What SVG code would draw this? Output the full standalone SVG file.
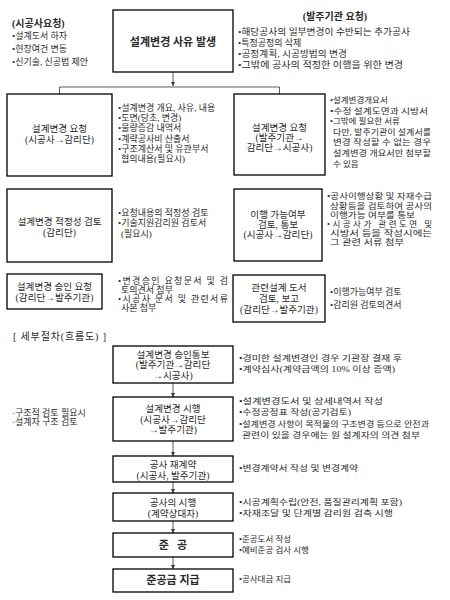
<svg xmlns="http://www.w3.org/2000/svg" width="450" height="600" viewBox="0 0 450 600">
<style>
text{font-family:"Liberation Serif","Noto Sans CJK KR",serif;fill:#2a2a2a;dominant-baseline:central}
.bt{font-size:9.6px;text-anchor:middle}
.lt{font-size:10px}
.bb{font-size:11px;text-anchor:middle;font-weight:bold}
.bl{font-size:9px}
.sm{font-size:8.5px}
.hd{font-size:10px;font-weight:bold}
.box{fill:#fff;stroke:#000;stroke-width:1.3}
.cn{fill:none;stroke:#333;stroke-width:0.8}
</style>
<defs>
<marker id="ah" viewBox="0 0 6 6" refX="6" refY="3" markerWidth="4.5" markerHeight="4.5" markerUnits="userSpaceOnUse" orient="auto">
<path d="M0,0 L6,3 L0,6 z" fill="#333"/>
</marker>
</defs>
<rect width="450" height="600" fill="#fff"/>

<g id="connectors">
<line class="cn" x1="173" y1="72" x2="173" y2="86" marker-end="url(#ah)"/>
<polyline class="cn" points="59.5,94 59.5,87 279.5,87 279.5,94"/>
<line class="cn" x1="173" y1="383" x2="173" y2="397" marker-end="url(#ah)"/>
<line class="cn" x1="173" y1="441" x2="173" y2="456" marker-end="url(#ah)"/>
<line class="cn" x1="173" y1="482" x2="173" y2="493" marker-end="url(#ah)"/>
<line class="cn" x1="173" y1="521" x2="173" y2="533" marker-end="url(#ah)"/>
<line class="cn" x1="173" y1="557" x2="173" y2="569" marker-end="url(#ah)"/>
</g>

<g id="contractor-request">
<text class="hd" x="12" y="23">(시공사요청)</text>
<text class="bl" x="12" y="36">•설계도서 하자</text>
<text class="bl" x="12" y="49">•현장여건 변동</text>
<text class="bl" x="12" y="62">•신기술, 신공법 제안</text>
</g>

<g id="owner-request">
<text class="hd" x="335" y="16" text-anchor="middle">(발주기관 요청)</text>
<text class="bl" x="238" y="32" textLength="172" lengthAdjust="spacingAndGlyphs">•해당공사의 일부변경이 수반되는 추가공사</text>
<text class="bl" x="238" y="43">•특정공정의 삭제</text>
<text class="bl" x="238" y="54" textLength="109" lengthAdjust="spacingAndGlyphs">•공정계획, 시공방법의 변경</text>
<text class="bl" x="238" y="65" textLength="165" lengthAdjust="spacingAndGlyphs">•그밖에 공사의 적정한 이행을 위한 변경</text>
</g>

<g id="n-cause">
<rect class="box" x="113" y="10" width="120" height="62" stroke-width="1.5"/>
<text class="bb" x="173" y="42">설계변경 사유 발생</text>
</g>

<g id="n-req-contractor">
<rect class="box" x="7" y="94" width="105" height="82"/>
<text class="bt" x="59.5" y="128">설계변경 요청</text>
<text class="bt" x="59.5" y="139">(시공사→감리단)</text>
<text class="bl" x="118" y="108">•설계변경 개요, 사유, 내용</text>
<text class="bl" x="118" y="118">•도면(당초, 변경)</text>
<text class="bl" x="118" y="128">•물량증감 내역서</text>
<text class="bl" x="118" y="139">•계략공사비 산출서</text>
<text class="bl" x="118" y="149">•구조계산서 및 유관부서</text>
<text class="bl" x="121" y="159">협의내용(필요시)</text>
</g>

<g id="n-req-owner">
<rect class="box" x="234" y="94" width="91" height="81"/>
<text class="bt" x="279.5" y="127">설계변경 요청</text>
<text class="bt" x="279.5" y="137">(발주기관→</text>
<text class="bt" x="279.5" y="147">감리단→시공사)</text>
<text class="sm" x="330" y="100">•설계변경개요서</text>
<text class="sm" x="330" y="110.6" textLength="98" lengthAdjust="spacingAndGlyphs">•수정 설계도면과 시방서</text>
<text class="sm" x="330" y="121">•그밖에 필요한 서류</text>
<text class="sm" x="333" y="132" textLength="98" lengthAdjust="spacingAndGlyphs">다만, 발주기관이 설계서를</text>
<text class="sm" x="333" y="142" textLength="98" lengthAdjust="spacingAndGlyphs">변경 작성할 수 없는 경우</text>
<text class="sm" x="333" y="153" textLength="98" lengthAdjust="spacingAndGlyphs">설계변경 개요서만 첨부할</text>
<text class="sm" x="333" y="163.5">수 있음</text>
</g>

<g id="n-review">
<rect class="box" x="7" y="189" width="105" height="73"/>
<text class="bt" x="59.5" y="221">설계변경 적정성 검토</text>
<text class="bt" x="59.5" y="232">(감리단)</text>
<text class="bl" x="118" y="213">•요청내용의 적정성 검토</text>
<text class="bl" x="118" y="223">•기술지원감리원 검토서</text>
<text class="bl" x="121" y="234">(필요시)</text>
</g>

<g id="n-feasibility">
<rect class="box" x="234" y="189" width="88" height="72"/>
<text class="bt" x="278" y="214">이행 가능여부</text>
<text class="bt" x="278" y="224">검토, 통보</text>
<text class="bt" x="278" y="234">(시공사→감리단)</text>
<text class="sm" x="327" y="196" textLength="105" lengthAdjust="spacingAndGlyphs">•공사이행상황 및 자재수급</text>
<text class="sm" x="330" y="205.5" textLength="102" lengthAdjust="spacingAndGlyphs">상황등을 검토하여 공사의</text>
<text class="sm" x="330" y="214.5" textLength="85" lengthAdjust="spacingAndGlyphs">이행가능 여부를 통보</text>
<text class="sm" x="327" y="223.5" textLength="105" lengthAdjust="spacing">•시공사가 관련도면 및</text>
<text class="sm" x="330" y="232.5" textLength="102" lengthAdjust="spacingAndGlyphs">시방서 등을 작성시에는</text>
<text class="sm" x="330" y="241.5" textLength="74" lengthAdjust="spacingAndGlyphs">그 관련 서류 첨부</text>
</g>

<g id="n-approval-req">
<rect class="box" x="7" y="274" width="95" height="35"/>
<text class="bt" x="54.5" y="286.5">설계변경 승인 요청</text>
<text class="bt" x="54.5" y="297.5">(감리단→발주기관)</text>
<text class="bl" x="118" y="281" textLength="110" lengthAdjust="spacing">•변경승인 요청문서 및 검</text>
<text class="bl" x="121" y="290">토의견서 첨부</text>
<text class="bl" x="118" y="299" textLength="110" lengthAdjust="spacing">•시공사 문서 및 관련서류</text>
<text class="bl" x="121" y="308">사본 첨부</text>
</g>

<g id="n-design-review">
<rect class="box" x="233" y="275" width="92" height="47"/>
<text class="bt" x="279" y="287">관련설계 도서</text>
<text class="bt" x="279" y="298">검토, 보고</text>
<text class="bt" x="279" y="309">(감리단→발주기관)</text>
<text class="bl" x="330" y="292">•이행가능여부 검토</text>
<text class="bl" x="330" y="305">•감리원 검토의견서</text>
</g>

<g id="detail-title">
<text class="lt" x="13" y="336" textLength="93" lengthAdjust="spacing">[ 세부절차(흐름도) ]</text>
</g>

<g id="n-approval-notice">
<rect class="box" x="113" y="346" width="120" height="37"/>
<text class="bt" x="173" y="354">설계변경 승인통보</text>
<text class="bt" x="173" y="364.5">(발주기관→감리단</text>
<text class="bt" x="173" y="375">→시공사)</text>
<text class="sm" x="239" y="358" textLength="163" lengthAdjust="spacingAndGlyphs">•경미한 설계변경인 경우 기관장 결재 후</text>
<text class="sm" x="239" y="369" textLength="156" lengthAdjust="spacingAndGlyphs">•계약심사(계약금액의 10% 이상 증액)</text>
</g>

<g id="structural-note">
<text class="bl" x="12" y="413">·구조적 검토 필요시</text>
<text class="bl" x="12" y="422">·설계자 구조 검토</text>
</g>

<g id="n-implement">
<rect class="box" x="113" y="397" width="120" height="44"/>
<text class="bt" x="173" y="408">설계변경 시행</text>
<text class="bt" x="173" y="419">(시공사→감리단</text>
<text class="bt" x="173" y="429">→발주기관)</text>
<text class="sm" x="239" y="401" textLength="144" lengthAdjust="spacingAndGlyphs">•설계변경도서 및 상세내역서 작성</text>
<text class="sm" x="239" y="412" textLength="112" lengthAdjust="spacingAndGlyphs">•수정공정표 작성(공기검토)</text>
<text class="sm" x="239" y="424" textLength="190" lengthAdjust="spacingAndGlyphs">•설계변경 사항이 목적물의 구조변경 등으로 안전과</text>
<text class="sm" x="242" y="435" textLength="178" lengthAdjust="spacingAndGlyphs">관련이 있을 경우에는 원 설계자의 의견 첨부</text>
</g>

<g id="n-recontract">
<rect class="box" x="113" y="456" width="120" height="26"/>
<text class="bt" x="173" y="464">공사 재계약</text>
<text class="bt" x="173" y="475">(시공사, 발주기관)</text>
<text class="sm" x="239" y="468" textLength="119" lengthAdjust="spacingAndGlyphs">•변경계약서 작성 및 변경계약</text>
</g>

<g id="n-construction">
<rect class="box" x="113" y="493" width="120" height="28"/>
<text class="bt" x="173" y="502">공사의 시행</text>
<text class="bt" x="173" y="513">(계약상대자)</text>
<text class="sm" x="239" y="502" textLength="163" lengthAdjust="spacingAndGlyphs">•시공계획수립(안전, 품질관리계획 포함)</text>
<text class="sm" x="239" y="513" textLength="154" lengthAdjust="spacingAndGlyphs">•자재조달 및 단계별 감리원 검측 시행</text>
</g>

<g id="n-completion">
<rect class="box" x="113" y="533" width="120" height="24"/>
<text class="bb" x="173" y="545" xml:space="preserve">준   공</text>
<text class="sm" x="239" y="539">•준공도서 작성</text>
<text class="sm" x="239" y="550">•예비준공 검사 시행</text>
</g>

<g id="n-payment">
<rect class="box" x="113" y="569" width="120" height="23"/>
<text class="bb" x="173" y="580">준공금 지급</text>
<text class="sm" x="239" y="579">•공사대금 지급</text>
</g>
</svg>
